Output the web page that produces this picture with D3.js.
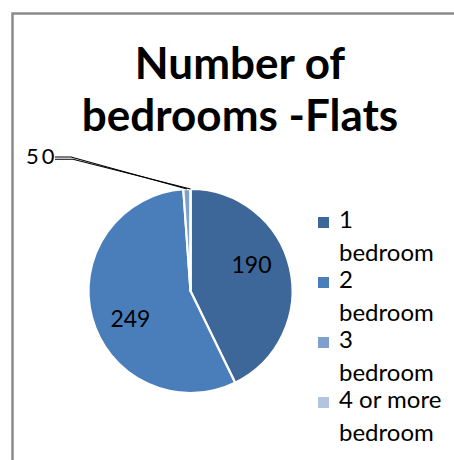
<!DOCTYPE html>
<html>
<head>
<meta charset="utf-8">
<script src="https://cdn.jsdelivr.net/npm/d3@7"></script>
<style>
  html, body { margin: 0; padding: 0; background: #fff; }
  svg { display: block; }
  text { font-family: Lato, "Noto Sans", sans-serif; fill: #000; }
</style>
</head>
<body>
<svg id="chart" width="454" height="460"></svg>
<script>
// Flats by number of bedrooms
const categories = ["1 bedroom", "2 bedroom", "3 bedroom", "4 or more bedroom"];
const legendLines = [["1", "bedroom"], ["2", "bedroom"], ["3", "bedroom"], ["4 or more", "bedroom"]];
const values = [190, 249, 5, 0];
const colors = ["#3d6699", "#4a7ebb", "#7f9fcd", "#b3c4e1"];
const titleLines = ["Number of", "bedrooms -Flats"];

const svg = d3.select("#chart");
const W = 454, H = 460;

// frame (top and left edges)
svg.append("path")
  .attr("d", `M12.5,${H} V13.5 H${W}`)
  .attr("fill", "none")
  .attr("stroke", "#8a8a8a")
  .attr("stroke-width", 2.5);

// title
const title = svg.append("text")
  .attr("text-anchor", "middle")
  .attr("font-weight", 700)
  .attr("font-size", 44);
titleLines.forEach((t, i) => {
  title.append("tspan").attr("x", 240).attr("y", 79 + i * 52).text(t);
});

// pie
const cx = 190.5, cy = 291, r = 102;
const g = svg.append("g").attr("transform", `translate(${cx},${cy})`);
const pie = d3.pie().sort(null).value(d => d)(values);
const arc = d3.arc().innerRadius(0).outerRadius(r);

g.selectAll("path.slice")
  .data(pie)
  .join("path")
  .attr("class", "slice")
  .attr("d", arc)
  .attr("fill", (d, i) => colors[i])
  .attr("stroke", "#fff")
  .attr("stroke-width", 2.2)
  .attr("stroke-linejoin", "round");

// inner value labels for the large slices (best-fit: nudged back from the mid angle)
const labelR = r * 0.65, labelShift = 10 * Math.PI / 180;
const labelFont = 23;
pie.forEach((d, i) => {
  if (d.endAngle - d.startAngle < 0.5) return;
  const a = (d.startAngle + d.endAngle) / 2 - labelShift;
  g.append("text")
    .attr("x", Math.sin(a) * labelR)
    .attr("y", -Math.cos(a) * labelR)
    .attr("dy", "0.36em")
    .attr("text-anchor", "middle")
    .attr("font-size", labelFont)
    .text(d.data);
});

// outside labels for the thin slices, with leader lines
const small = pie.filter(d => d.endAngle - d.startAngle < 0.5);
const outLabelY = 156 - cy;
const outText = g.append("text")
  .attr("x", 26 - cx)
  .attr("y", outLabelY)
  .attr("dy", "0.36em")
  .attr("font-size", 22);
small.forEach((d, k) => {
  outText.append("tspan").attr("dx", k ? 3 : 0).text(d.data);
});

small.forEach((d, k) => {
  const a = (d.startAngle + d.endAngle) / 2;
  const ex = Math.sin(a) * r, ey = -Math.cos(a) * r;
  const y0 = outLabelY + 1 + k * 2.2;
  const pts = [[55 - cx, y0], [71 - cx + k * 2, y0], [ex, ey]];
  g.append("path")
    .attr("d", d3.line()(pts))
    .attr("fill", "none")
    .attr("stroke", "#000")
    .attr("stroke-width", 1.1);
});

// legend
const legend = svg.append("g");
legendLines.forEach((lines, i) => {
  const base = 228 + i * 60;
  legend.append("rect")
    .attr("x", 318).attr("y", base - 11)
    .attr("width", 11).attr("height", 11)
    .attr("fill", colors[i]);
  const t = legend.append("text").attr("font-size", 24);
  lines.forEach((ln, j) => {
    t.append("tspan").attr("x", 339).attr("y", base + j * 33).text(ln);
  });
});
</script>
</body>
</html>
